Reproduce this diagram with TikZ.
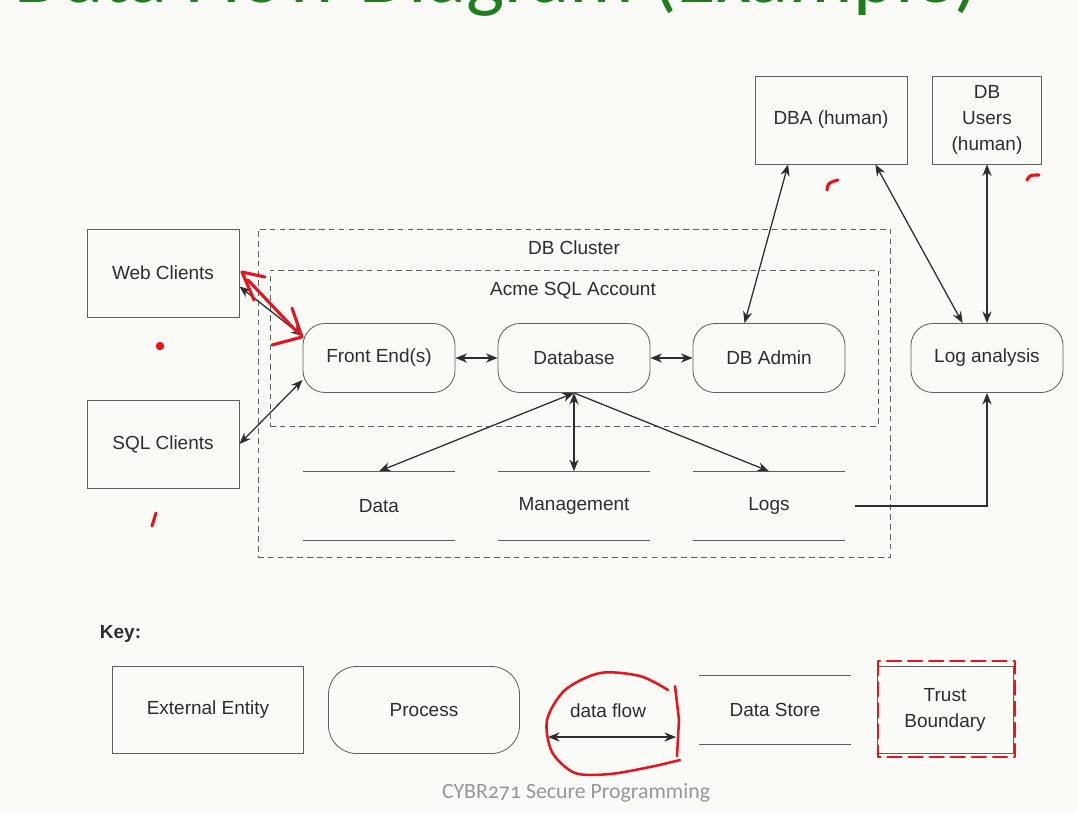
\documentclass[tikz,border=0pt]{standalone}
\usepackage{fontspec}
\setmainfont{Liberation Sans}
\newfontfamily\slidefont{Carlito}[Numbers=OldStyle]
\usepackage{tikz}
\usetikzlibrary{arrows.meta,positioning}
\definecolor{slidebg}{RGB}{250,251,246}
\definecolor{titlegreen}{RGB}{30,125,30}
\definecolor{inkgray}{RGB}{45,45,45}
\definecolor{boxgray}{RGB}{95,95,95}
\definecolor{penred}{RGB}{230,20,30}
\definecolor{footgray}{RGB}{150,150,150}

\begin{document}
\begin{tikzpicture}
  [
    x=0.025cm, y=-0.025cm,
    every node/.style={font=\fontsize{13.5}{18.5}\selectfont,text=inkgray},
    entity/.style={rectangle,draw=boxgray,line width=0.6pt,minimum width=3.8cm,minimum height=2.2cm,inner sep=0pt},
    process/.style={rectangle,rounded corners=0.55cm,draw=boxgray,line width=0.6pt,minimum width=3.8cm,minimum height=1.725cm,inner sep=0pt},
    store/.style={rectangle,minimum width=3.8cm,minimum height=1.725cm,inner sep=0pt},
    storeline/.style={draw=boxgray,line width=0.6pt},
    boundary/.style={rectangle,draw=boxgray,line width=0.5pt,dash pattern=on 4pt off 3pt,inner sep=0pt},
    dflow/.style={{Stealth[length=2.9mm,width=2.3mm]}-{Stealth[length=2.9mm,width=2.3mm]},line width=0.9pt,draw=inkgray},
    oneway/.style={-{Stealth[length=2.9mm,width=2.3mm]},line width=0.9pt,draw=inkgray},
    pen/.style={draw=penred,line width=2.2pt,line cap=round,line join=round}
  ]
  \fill[slidebg] (0,0) rectangle (1078,812);
  \useasboundingbox (0,0) rectangle (1078,812);

  \node[anchor=base west,inner sep=0pt,font=\slidefont\fontsize{57.5}{60}\selectfont,text=titlegreen] at (14,2) (title) {Data Flow Diagram (Example)};

  % trust boundaries
  \node[boundary,minimum width=15.8cm,minimum height=8.2cm] at (574,393) (db cluster) {};
  \node[boundary,minimum width=15.2cm,minimum height=3.9cm] at (574,348) (acme account) {};
  \node at (574,248) (cluster label) {DB Cluster};
  \node at (573,291) (account label) {Acme SQL Account};

  % external entities
  \node[entity] at (163,273) (web clients) {Web Clients};
  \node[entity] at (163,444) (sql clients) {SQL Clients};
  \node[entity] at (831,120) (dba) {DBA (human)};
  \node[entity,minimum width=2.725cm,align=center] at (987,120) (db users) {DB\\Users\\(human)};

  % processes
  \node[process] at (379,358) (front end) {Front End(s)};
  \node[process] at (574,358) (database) {Database};
  \node[process] at (769,358) (db admin) {DB Admin};
  \node[process] at (987,358) (log analysis) {Log analysis};

  % data stores
  \node[store] at (379,506) (data) {Data};
  \node[store] at (574,506) (management) {Management};
  \node[store] at (769,506) (logs) {Logs};
  \foreach \s in {data,management,logs}
    \draw[storeline] (\s.north west) -- (\s.north east) (\s.south west) -- (\s.south east);

  % data flows
  \draw[dflow] (web clients.-10) -- (front end.164);
  \draw[dflow] (sql clients.east) -- (front end.196);
  \draw[dflow] (front end) -- (database);
  \draw[dflow] (database) -- (db admin);
  \draw[dflow] (database.south) -- (data.north);
  \draw[dflow] (database.south) -- (management.north);
  \draw[oneway] (database.south) -- (logs.north);
  \draw[dflow] (dba.226) -- (db admin.125);
  \draw[dflow] (dba.-45) -- (log analysis.125);
  \draw[dflow] (db users) -- (log analysis);
  \draw[oneway] ([xshift=0.25cm]logs.east) -| (log analysis.south);

  % key
  \node[anchor=west,font=\fontsize{13.5}{16}\selectfont\bfseries] at (95,634) (key) {Key:};
  \node[entity,minimum width=4.775cm,minimum height=2.175cm] at (208,710) (key entity) {External Entity};
  \node[process,minimum width=4.775cm,minimum height=2.175cm,rounded corners=0.7cm] at (424,710) (key process) {Process};
  \node at (608,711) (key flow) {data flow};
  \coordinate (flow start) at (548,737);
  \coordinate (flow end) at (676,737);
  \draw[dflow] (flow start) -- (flow end);
  \node[store,minimum width=3.775cm] at (775,710) (key store) {Data Store};
  \draw[storeline] (key store.north west) -- (key store.north east) (key store.south west) -- (key store.south east);
  \node[entity,minimum width=3.4cm,minimum height=2.175cm,align=center] at (945,710) (key boundary) {Trust\\Boundary};

  \node[font=\slidefont\fontsize{15.5}{18}\selectfont,text=footgray] at (576,793) (footer) {CYBR271 Secure Programming};

  % red pen marks
  \draw[pen] (265,277) -- (242,272) -- (254,300);
  \draw[pen] (248,280) -- (298,333);
  \draw[pen] (292,308) -- (302,337) -- (272,345);
  \fill[penred] (160,346) circle (3pt);
  \draw[pen] (152,526) -- (156,513);
  \draw[pen] (827,190) .. controls (828,183) .. (838,180);
  \draw[pen] (1027,180) .. controls (1030,175) .. (1039,175);
  \draw[pen,line width=1.8pt] plot[smooth] coordinates {(668,690) (640,676) (600,673) (565,690) (547,720) (552,752) (575,773) (610,774) (650,767) (680,760)};
  \draw[pen,line width=1.8pt] (675,686) -- (679,720) -- (677,756);
  \draw[pen,line width=1.8pt,dash pattern=on 10pt off 5pt] (878,661) rectangle (1015,757);
\end{tikzpicture}
\end{document}
